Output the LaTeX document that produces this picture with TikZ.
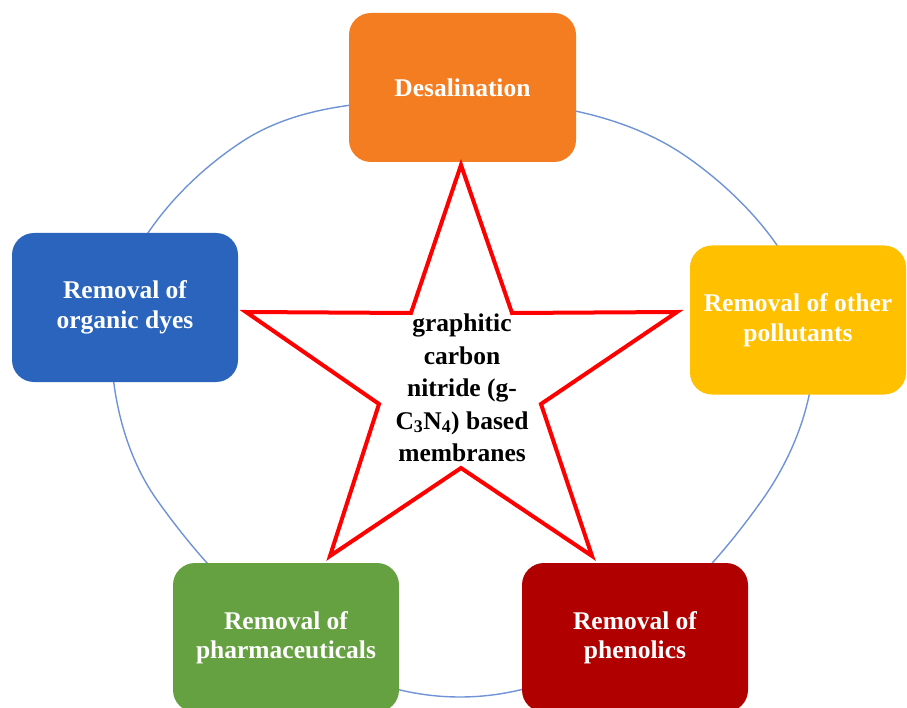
\documentclass[tikz,border=0pt]{standalone}
\usepackage{fontspec}
\setmainfont{Liberation Serif}
\definecolor{desalorange}{HTML}{F47D21}
\definecolor{dyesblue}{HTML}{2A64BC}
\definecolor{othergold}{HTML}{FFC000}
\definecolor{pharmagreen}{HTML}{65A041}
\definecolor{phenolred}{HTML}{B00000}
\definecolor{ringblue}{HTML}{6F93D6}
\definecolor{starred}{HTML}{FF0000}

\begin{document}
\begin{tikzpicture}[
    x=1pt, y=-1pt,% pixel units, y down
    task/.style={
      rounded corners=22pt, minimum height=149pt,
      text=white, align=center, inner sep=0pt,
      font=\bfseries\fontsize{25.5}{29.5}\selectfont,
    },
    ring/.style={draw=ringblue, line width=1.4pt},
    starline/.style={draw=starred, fill=white, line width=4pt, line join=miter},
  ]
    \useasboundingbox (0,0) rectangle (907,708);
    \clip (0,0) rectangle (907,708);
    % ring behind the boxes
    \draw[ring] (462,100)
      .. controls (539,100) and (624,113) .. (687,157)
      .. controls (750,201) and (814,273) .. (814,350)
      .. controls (814,404) and (792,459) .. (760,503)
      .. controls (687,605) and (586,697) .. (460,697)
      .. controls (333,697) and (231,604) .. (157,500)
      .. controls (125,455) and (111,395) .. (111,340)
      .. controls (111,262) and (175,186) .. (240,143)
      .. controls (302,101) and (387,100) .. cycle;
    \foreach \name/\x/\y/\w/\col/\txt [count=\k] in {
      desal/462.5/87.5/227/desalorange/{Desalination},
      dyes/125/307.5/226/dyesblue/{Removal of\\organic dyes},
      other/798/320/216/othergold/{Removal of other\\pollutants},
      pharma/286/637.5/226/pharmagreen/{Removal of\\pharmaceuticals},
      phenol/635/637.5/226/phenolred/{Removal of\\phenolics}%
    } {
        \node[task, fill=\col, minimum width=\w pt] (\name) at (\x,\y) {\txt};
    }
    \draw[starline] (461,165) -- (512,313) -- (677,312) -- (541,404)
      -- (592,556) -- (461,468) -- (330,556) -- (379,404)
      -- (246,312) -- (411,313) -- cycle;
    \node[
      align=center, inner sep=0pt,
      font=\bfseries\fontsize{25.5}{32.5}\selectfont,
    ] (core) at (462,388) {graphitic\\carbon\\nitride (g-\\C\textsubscript{3}N\textsubscript{4}) based\\membranes};
\end{tikzpicture}
\end{document}
